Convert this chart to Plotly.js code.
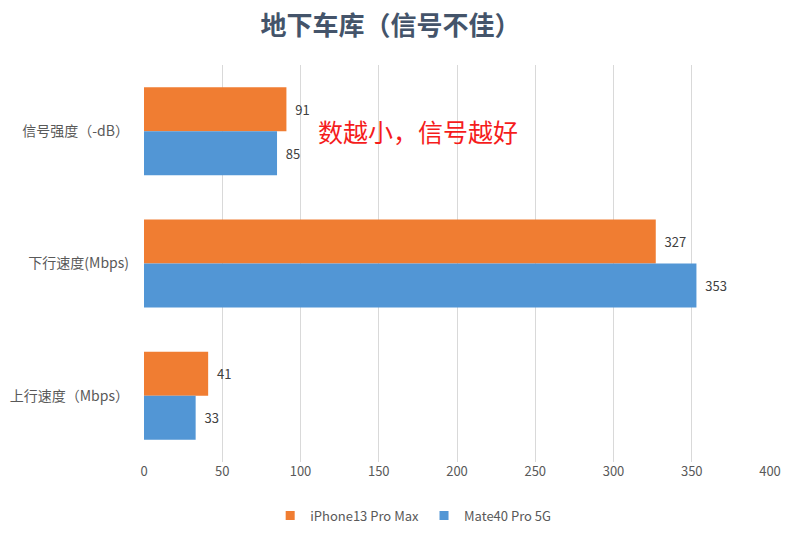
<!DOCTYPE html>
<html>
<head>
<meta charset="utf-8">
<script src="https://cdn.plot.ly/plotly-3.0.1.min.js"></script>
<style>
  html, body { margin: 0; padding: 0; background: #fff; }
  #chart { width: 802px; height: 543px; }
</style>
</head>
<body>
<div id="chart"></div>
<script>
const categories = ["信号强度（-dB）", "下行速度(Mbps)", "上行速度（Mbps）"];
const iphoneValues = [91, 327, 41];
const mateValues = [85, 353, 33];
const seriesNames = ["iPhone13 Pro Max", "Mate40 Pro 5G"];
const seriesColors = ["#F07D32", "#5296D5"];
const xTicks = [0, 50, 100, 150, 200, 250, 300, 350, 400];

const baseFont = "'Noto Sans CJK SC', 'Open Sans', sans-serif";
const pad = "\u00a0\u00a0";

function barTrace(name, values, color) {
  return {
    type: "bar",
    orientation: "h",
    name: name,
    y: categories,
    x: values,
    text: values.map(v => pad + v),
    textposition: "outside",
    cliponaxis: false,
    textfont: { size: 13, color: "#404040" },
    marker: { color: color },
    showlegend: false
  };
}

// small square legend keys like the original, bars themselves stay out of the legend
function legendTrace(name, color) {
  return {
    type: "scatter",
    mode: "markers",
    name: name,
    x: [null],
    y: [null],
    marker: { symbol: "square", size: 9, color: color },
    showlegend: true
  };
}

const data = [
  barTrace(seriesNames[0], iphoneValues, seriesColors[0]),
  barTrace(seriesNames[1], mateValues, seriesColors[1]),
  legendTrace(seriesNames[0], seriesColors[0]),
  legendTrace(seriesNames[1], seriesColors[1])
];

const layout = {
  width: 802,
  height: 543,
  margin: { l: 144, r: 32, t: 65, b: 81 },
  paper_bgcolor: "#fff",
  plot_bgcolor: "#fff",
  font: { family: baseFont, size: 13, color: "#595959" },
  title: {
    text: "<b>地下车库（信号不佳）</b>",
    x: 0.487,
    xanchor: "center",
    y: 0.953,
    yanchor: "middle",
    font: { family: baseFont, size: 26, color: "#44546A" }
  },
  barmode: "group",
  bargap: 0.335,
  bargroupgap: 0,
  showlegend: true,
  legend: {
    orientation: "h",
    x: 0.43,
    xanchor: "center",
    y: -0.135,
    yanchor: "middle",
    font: { size: 13, color: "#595959" },
    itemwidth: 30,
    tracegroupgap: 0
  },
  xaxis: {
    range: [0, 400],
    tickvals: xTicks,
    showgrid: true,
    gridcolor: "#D9D9D9",
    gridwidth: 1,
    zeroline: false,
    showline: false,
    ticks: "",
    tickfont: { size: 13, color: "#595959" },
    fixedrange: true
  },
  yaxis: {
    autorange: "reversed",
    showgrid: false,
    zeroline: false,
    showline: false,
    ticks: "",
    ticklabelstandoff: 14,
    tickfont: { size: 14, color: "#595959" },
    fixedrange: true
  },
  annotations: [
    {
      text: "数越小，信号越好",
      xref: "x",
      yref: "y",
      x: 110,
      y: categories[0],
      xanchor: "left",
      yanchor: "middle",
      showarrow: false,
      font: { family: baseFont, size: 25, color: "#F51C1C" }
    }
  ]
};

Plotly.newPlot("chart", data, layout, { displayModeBar: false, staticPlot: true });
</script>
</body>
</html>
